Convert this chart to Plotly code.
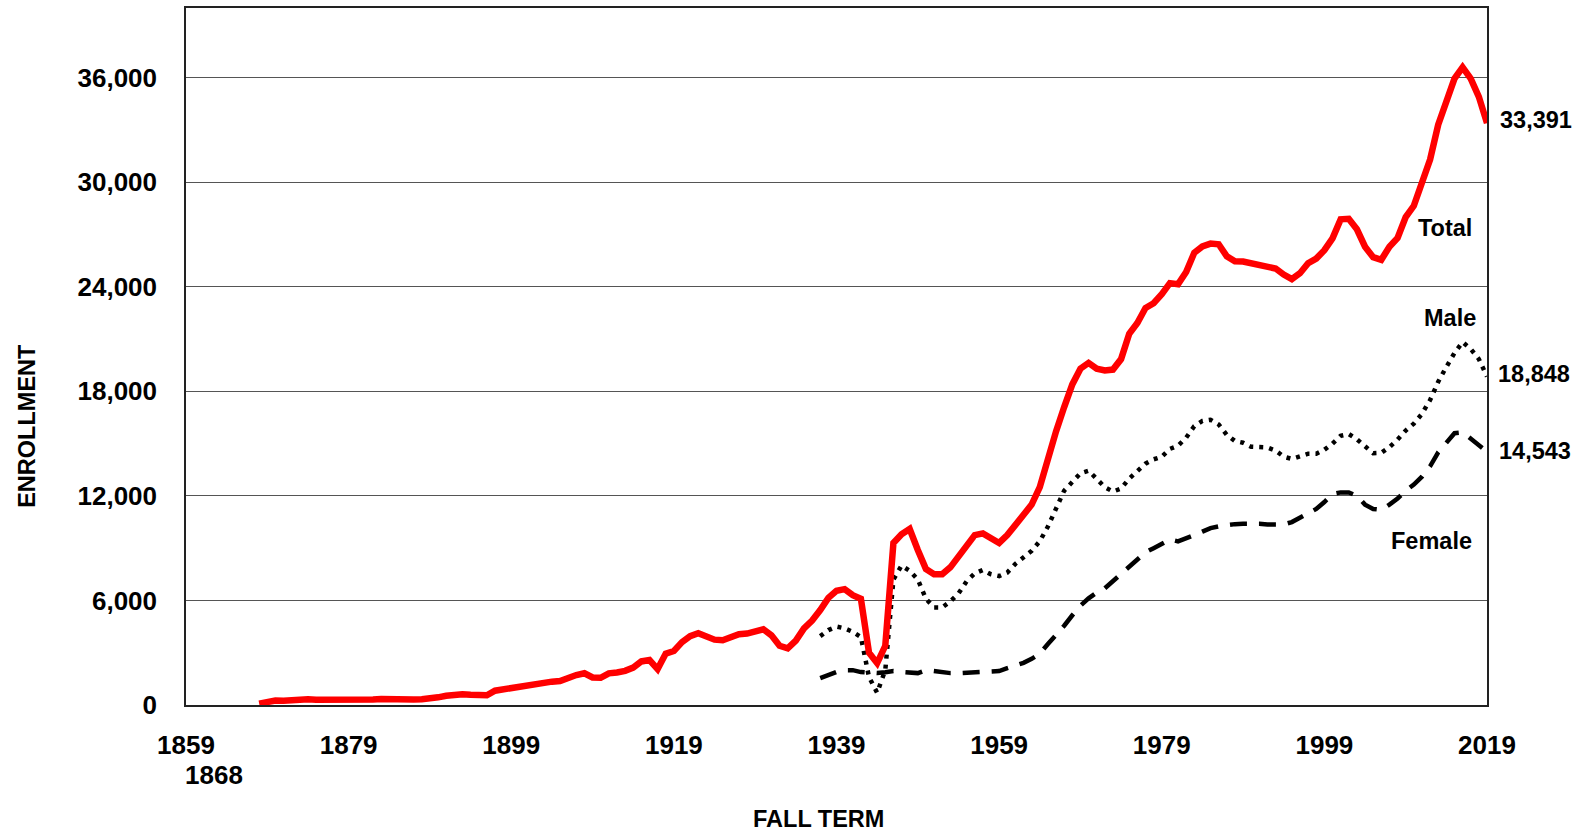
import plotly.graph_objects as go

# ---------------- data ----------------
years_total = list(range(1868, 2020))
total = [
    80, 200,
    260, 250, 290, 310, 330, 300, 290, 300, 330, 340,
    310, 280, 320, 350, 320, 340, 330, 320, 330, 360,
    440, 530, 600, 620, 590, 570, 560, 820, 900, 960,
    1100, 1180, 1270, 1330, 1340, 1380, 1600, 1720, 1820, 1580,
    1560, 1820, 1870, 1960, 2150, 2500, 2580, 2060, 2950, 3100,
    3610, 3950, 4120, 3950, 3750, 3720, 3900, 4060, 4100, 4200,
    4350, 4000, 3400, 3250, 3700, 4400, 4850, 5450, 6150, 6550,
    6650, 6300, 6100, 3000, 2400, 3400, 9300, 9800, 10100, 8900,
    7800, 7500, 7500, 7900, 8500, 9200, 9750, 9850, 9600, 9300,
    9750, 10350, 10800, 11500, 12500, 14200, 15700, 17100, 18400, 19300,
    19630, 19300, 19200, 19250, 19850, 21300, 21920, 22780, 23060, 23580,
    24210, 24150, 24850, 25950, 26320, 26480, 26440, 25750, 25470, 25450,
    25350, 25260, 25200, 25050, 24700, 24440, 24780, 25350, 25620, 26100,
    26780, 27870, 27900, 27300, 26300, 25700, 25550, 26300, 26800, 28000,
    28650, 29900, 31300, 33300, 34700, 35950, 36600, 35950, 34900, 33391,
]

years_gender = list(range(1937, 2020))
male = [
    3950, 4300, 4500,
    4400, 4200, 3900, 1600, 700, 2000, 7200, 8000, 7700, 7200,
    6100, 5600, 5600, 5950, 6400, 7100, 7550, 7750, 7500, 7400,
    7600, 8100, 8500, 8850, 9400, 10240, 11270, 12300, 12800, 13300,
    13450, 13000, 12500, 12250, 12420, 13000, 13450, 13850, 14100, 14250,
    14700, 14880, 15340, 16000, 16300, 16370, 16100, 15500, 15150, 15050,
    14820, 14820, 14780, 14600, 14250, 14120, 14250, 14420, 14420, 14650,
    15000, 15450, 15550, 15250, 14850, 14450, 14470, 14800, 15230, 15750,
    16150, 16710, 17500, 18550, 19400, 20200, 20830, 20430, 19850, 18848,
]
female = [
    1540, 1750, 1900,
    2000, 2000, 1890, 1830, 1830, 1880, 1950, 1900, 1870, 1830,
    2000, 1950, 1850, 1830, 1830, 1850, 1860, 1880, 1900, 1950,
    2120, 2250, 2420, 2650, 2950, 3500, 4000, 4550, 5150, 5700,
    6120, 6450, 6700, 7100, 7500, 7950, 8350, 8760, 9000, 9250,
    9500, 9390, 9550, 9750, 9950, 10150, 10250, 10330, 10380, 10400,
    10420, 10400, 10360, 10360, 10360, 10500, 10750, 10950, 11250, 11650,
    12100, 12200, 12200, 12000, 11500, 11250, 11200, 11500, 11850, 12300,
    12650, 13100, 13700, 14500, 15100, 15600, 15650, 15300, 14900, 14543,
]

x_ticks = [1859, 1879, 1899, 1919, 1939, 1959, 1979, 1999, 2019]
y_ticks = [0, 6000, 12000, 18000, 24000, 30000, 36000]
y_tick_text = ["0", "6,000", "12,000", "18,000", "24,000", "30,000", "36,000"]

# ---------------- figure ----------------
FONT = "Liberation Sans, Arial, sans-serif"

fig = go.Figure()
fig.add_trace(go.Scatter(x=years_gender, y=female, mode="lines", name="Female",
                         line=dict(color="black", width=4.5, dash="17px,12px")))
fig.add_trace(go.Scatter(x=years_gender, y=male, mode="lines", name="Male",
                         line=dict(color="black", width=4.5, dash="4px,6px")))
fig.add_trace(go.Scatter(x=years_total, y=total, mode="lines", name="Total",
                         line=dict(color="#ff0000", width=6.5)))

L, R, T, B = 186, 94, 6, 127
W, H = 1581, 832
pw, ph = W - L - R, H - T - B


def px(x):
    return (x - L) / pw


def py(y):
    return (H - B - y) / ph


ann_font = dict(family=FONT, size=23.5, color="black", weight="bold")
annotations = [
    dict(text="33,391", x=px(1498), y=py(118), xanchor="left", yanchor="middle"),
    dict(text="18,848", x=px(1496), y=py(373), xanchor="left", yanchor="middle"),
    dict(text="14,543", x=px(1497), y=py(450), xanchor="left", yanchor="middle"),
    dict(text="Total", x=px(1445), y=py(227), xanchor="center", yanchor="middle"),
    dict(text="Male", x=px(1450), y=py(317), xanchor="center", yanchor="middle"),
    dict(text="Female", x=px(1431), y=py(541), xanchor="center", yanchor="middle"),
    dict(text="FALL TERM", x=px(818), y=py(819), xanchor="center", yanchor="middle"),
    dict(text="ENROLLMENT", x=px(27), y=py(425), xanchor="center", yanchor="middle",
         textangle=-90),
]
for a in annotations:
    a.update(xref="paper", yref="paper", showarrow=False, font=ann_font)
annotations.append(dict(text="1868", x=px(214), y=py(775), xref="paper", yref="paper",
                        xanchor="center", yanchor="middle", showarrow=False,
                        font=dict(family=FONT, size=26, color="black", weight="bold")))

fig.update_layout(
    width=W, height=H,
    margin=dict(l=L, r=R, t=T, b=B, pad=0),
    paper_bgcolor="white", plot_bgcolor="white",
    showlegend=False,
    annotations=annotations,
    font=dict(family=FONT, color="black"),
)
fig.update_xaxes(
    range=[1859, 2019], tickmode="array", tickvals=x_ticks,
    showgrid=False, zeroline=False, ticks="",
    showline=True, linecolor="#222222", linewidth=1.5, mirror=True,
    tickfont=dict(family=FONT, size=26, color="black", weight="bold"),
    ticklabelstandoff=16,
)
fig.update_yaxes(
    range=[0, 40000], tickmode="array", tickvals=y_ticks, ticktext=y_tick_text,
    showgrid=True, gridcolor="#555555", gridwidth=1.2, zeroline=False, ticks="",
    showline=True, linecolor="#222222", linewidth=1.5, mirror=True,
    tickfont=dict(family=FONT, size=26, color="black", weight="bold"),
    ticklabelstandoff=22,
)

fig.write_html(
    "out.html",
    config={"displayModeBar": False},
    post_script="document.body.style.margin='0';document.body.style.padding='0';"
                "document.body.style.overflow='hidden';",
)
